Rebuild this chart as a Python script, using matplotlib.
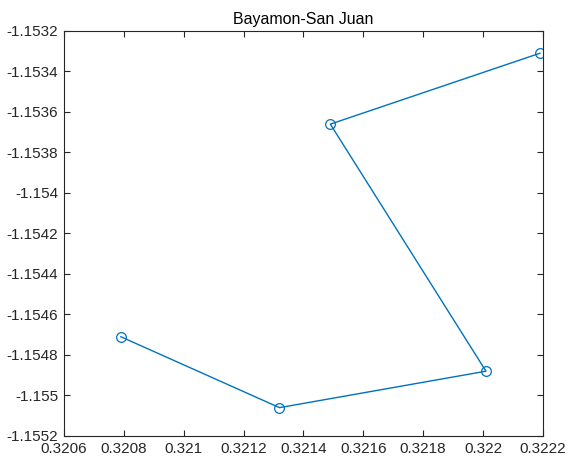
import matplotlib
matplotlib.use("Agg")
import matplotlib.pyplot as plt

x_vals = [0.32079, 0.32132, 0.32201, 0.32149, 0.32219]
y_vals = [-1.15471, -1.15506, -1.15488, -1.15366, -1.15331]

x_ticks = [0.3206, 0.3208, 0.3210, 0.3212, 0.3214, 0.3216, 0.3218, 0.3220, 0.3222]
x_labels = ["0.3206", "0.3208", "0.321", "0.3212", "0.3214", "0.3216", "0.3218", "0.322", "0.3222"]
y_ticks = [-1.1552, -1.1550, -1.1548, -1.1546, -1.1544, -1.1542, -1.1540, -1.1538, -1.1536, -1.1534, -1.1532]
y_labels = ["-1.1552", "-1.155", "-1.1548", "-1.1546", "-1.1544", "-1.1542", "-1.154", "-1.1538", "-1.1536", "-1.1534", "-1.1532"]
title = "Bayamon-San Juan"

plt.rcParams['font.family'] = ['Liberation Sans', 'DejaVu Sans']

fig = plt.figure(figsize=(5.69, 4.66), dpi=100)
ax = fig.add_axes([0.1125, 0.0644, 0.954 - 0.1125, 0.9335 - 0.0644])

ax.plot(x_vals, y_vals, color='#0072BD', linewidth=1.0, marker='o',
        markersize=7, markerfacecolor='none', markeredgecolor='#0072BD', markeredgewidth=0.9)

ax.set_xlim(x_ticks[0], x_ticks[-1])
ax.set_ylim(y_ticks[0], y_ticks[-1])
ax.set_xticks(x_ticks)
ax.set_xticklabels(x_labels)
ax.set_yticks(y_ticks)
ax.set_yticklabels(y_labels)

grey = '#262626'
for s in ax.spines.values():
    s.set_color(grey)
    s.set_linewidth(0.8)
ax.tick_params(direction='in', top=True, right=True, length=4, width=0.8,
               colors=grey, labelsize=11, pad=4)
ax.tick_params(axis='x', labelcolor=grey)
ax.set_title(title, fontsize=11.5, color='black', pad=5)

fig.savefig("out.png", dpi=100)
